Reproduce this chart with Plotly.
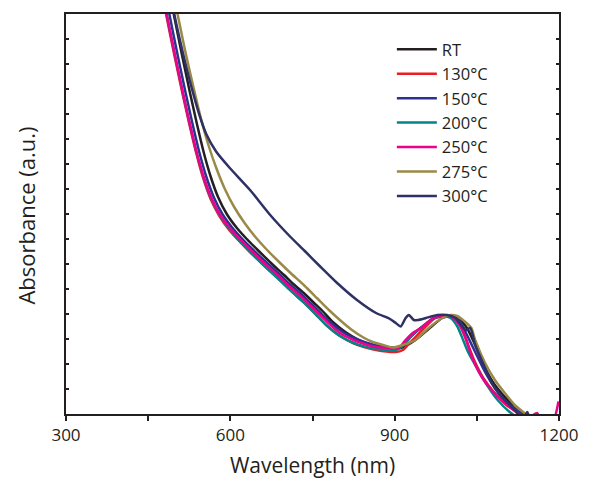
import plotly.graph_objects as go

# ---- data (wavelength in nm, absorbance in arbitrary units) ----
rt_nm = [482, 497, 511, 526, 538, 551, 564, 578, 594, 612, 630, 649, 680, 698, 716, 734, 752, 770, 786, 810, 833, 853, 884, 911, 938, 962, 987, 1002, 1016, 1032, 1047, 1065, 1083, 1110, 1133, 1145, 1200]
rt_y = [17.6, 15.96, 14.44, 12.88, 11.70, 10.50, 9.50, 8.66, 7.98, 7.44, 7.00, 6.58, 5.92, 5.56, 5.18, 4.84, 4.46, 4.08, 3.70, 3.28, 2.98, 2.80, 2.64, 2.64, 2.96, 3.4, 3.84, 3.92, 3.84, 3.44, 2.76, 1.84, 1.16, 0.48, 0.04, -0.2, -0.2]

c130_nm = [469, 483, 497, 512, 524, 537, 550, 564, 580, 598, 616, 635, 667, 685, 703, 721, 739, 757, 775, 799, 824, 844, 866, 902, 915, 924, 938, 956, 974, 993, 1007, 1020, 1032, 1045, 1063, 1081, 1104, 1126, 1140, 1200]
c130_y = [17.6, 15.96, 14.44, 12.88, 11.70, 10.50, 9.46, 8.60, 7.92, 7.36, 6.92, 6.50, 5.84, 5.48, 5.10, 4.72, 4.36, 3.96, 3.56, 3.14, 2.84, 2.68, 2.56, 2.48, 2.56, 2.76, 3.08, 3.48, 3.84, 3.92, 3.84, 3.52, 2.88, 2.16, 1.4, 0.88, 0.36, 0.04, -0.2, -0.2]

c150_nm = [475, 489, 503, 518, 530, 543, 556, 570, 586, 604, 622, 641, 673, 691, 709, 727, 745, 763, 781, 805, 830, 850, 872, 911, 929, 947, 969, 987, 1005, 1020, 1032, 1047, 1065, 1083, 1106, 1130, 1142, 1200]
c150_y = [17.6, 15.96, 14.44, 12.88, 11.70, 10.50, 9.50, 8.66, 7.98, 7.44, 7.00, 6.58, 5.92, 5.56, 5.18, 4.84, 4.46, 4.08, 3.70, 3.28, 3.0, 2.84, 2.72, 2.68, 3.08, 3.44, 3.8, 3.92, 3.92, 3.68, 3.16, 2.48, 1.68, 1.04, 0.44, 0.04, -0.2, -0.2]

c200_nm = [470, 484, 498, 513, 525, 538, 551, 565, 581, 599, 617, 636, 668, 686, 704, 722, 740, 758, 776, 800, 825, 845, 866, 902, 920, 933, 951, 971, 989, 1002, 1014, 1025, 1034, 1047, 1065, 1088, 1110, 1130, 1200]
c200_y = [17.6, 15.96, 14.44, 12.88, 11.70, 10.50, 9.48, 8.62, 7.94, 7.38, 6.92, 6.48, 5.80, 5.44, 5.06, 4.70, 4.34, 3.94, 3.54, 3.12, 2.84, 2.70, 2.60, 2.56, 2.84, 3.2, 3.48, 3.84, 3.92, 3.84, 3.52, 2.96, 2.48, 1.96, 1.28, 0.56, 0.08, -0.2, -0.2]

c250_nm = [470, 484, 498, 513, 525, 538, 551, 565, 581, 599, 617, 636, 668, 686, 704, 722, 740, 758, 776, 800, 825, 845, 866, 908, 920, 933, 951, 971, 989, 1005, 1016, 1029, 1041, 1059, 1077, 1101, 1124, 1140, 1160, 1166, 1190, 1199]
c250_y = [17.6, 15.96, 14.44, 12.88, 11.70, 10.50, 9.50, 8.66, 7.98, 7.44, 7.00, 6.58, 5.92, 5.56, 5.18, 4.84, 4.46, 4.08, 3.70, 3.24, 2.96, 2.80, 2.68, 2.66, 2.96, 3.24, 3.48, 3.84, 3.92, 3.88, 3.64, 3.08, 2.28, 1.48, 0.96, 0.44, 0.04, -0.2, 0.04, -0.2, -0.2, 0.5]

c275_nm = [490, 504, 518, 533, 547, 560, 574, 590, 607, 626, 645, 668, 690, 709, 735, 758, 780, 800, 822, 843, 860, 879, 897, 915, 938, 962, 987, 1002, 1014, 1029, 1040, 1047, 1065, 1083, 1101, 1119, 1137, 1150, 1200]
c275_y = [17.5, 15.96, 14.48, 13.04, 11.76, 10.76, 9.86, 9.0, 8.28, 7.64, 7.1, 6.54, 6.06, 5.66, 5.14, 4.64, 4.16, 3.76, 3.36, 3.06, 2.88, 2.76, 2.66, 2.76, 2.96, 3.44, 3.84, 3.96, 3.92, 3.68, 3.44, 2.96, 2.04, 1.36, 0.84, 0.36, 0.04, -0.2, -0.2]

c300_nm = [484, 498, 513, 529, 543, 556, 574, 599, 636, 672, 709, 735, 764, 794, 830, 866, 890, 902, 911, 920, 926, 935, 942, 957, 978, 996, 1011, 1021, 1030, 1038, 1047, 1065, 1077, 1092, 1106, 1124, 1135, 1142, 1148, 1200]
c300_y = [17.6, 15.96, 14.48, 13.08, 12.0, 11.2, 10.5, 9.84, 8.96, 7.98, 7.1, 6.54, 5.9, 5.26, 4.58, 4.04, 3.82, 3.64, 3.5, 3.84, 3.96, 3.76, 3.76, 3.84, 3.96, 3.96, 3.84, 3.56, 3.36, 3.44, 2.76, 1.84, 1.24, 0.76, 0.44, 0.04, -0.2, 0.08, -0.2, -0.2]

names = ["RT", "130°C", "150°C", "200°C", "250°C", "275°C", "300°C"]
colors = ["#231f20", "#ed1c24", "#2e3192", "#00858a", "#ec008c", "#9a8a48", "#2f3166"]
series = [(rt_nm, rt_y), (c130_nm, c130_y), (c150_nm, c150_y), (c200_nm, c200_y),
          (c250_nm, c250_y), (c275_nm, c275_y), (c300_nm, c300_y)]

FONT = "Open Sans"
AX = "#231f20"

fig = go.Figure()
for name, col, (xs, ys) in zip(names, colors, series):
    fig.add_trace(go.Scatter(x=xs, y=ys, mode="lines", name=name,
                             line=dict(color=col, width=2.5, shape="spline", smoothing=0.6)))

fig.update_layout(
    width=590, height=492,
    margin=dict(l=66, r=25, t=14, b=78),
    paper_bgcolor="white", plot_bgcolor="white",
    font=dict(family=FONT, color=AX, size=17),
    showlegend=True,
    legend=dict(x=0.661, y=0.955, xanchor="left", yanchor="top",
                bgcolor="rgba(0,0,0,0)", font=dict(size=16.5, family=FONT, color=AX),
                itemwidth=40, tracegroupgap=0),
    annotations=[dict(text="Absorbance (a.u.)", textangle=-90, showarrow=False,
                      xref="paper", yref="paper", x=-0.082, y=0.495,
                      xanchor="center", yanchor="middle",
                      font=dict(size=22, family=FONT, color=AX))],
)
fig.update_xaxes(range=[300, 1200], showgrid=False, zeroline=False,
                 showline=True, linecolor=AX, linewidth=2, mirror=True,
                 ticks="outside", ticklen=5, tickwidth=2, tickcolor=AX,
                 tickvals=[300, 600, 900, 1200],
                 minor=dict(tickvals=[450, 750, 1050], ticks="outside", ticklen=5, tickwidth=2, tickcolor=AX),
                 tickfont=dict(size=17, family=FONT, color=AX),
                 title=dict(text="Wavelength (nm)", font=dict(size=21, family=FONT, color=AX), standoff=13))
fig.update_yaxes(range=[0, 16], showgrid=False, zeroline=False,
                 showline=True, linecolor=AX, linewidth=2, mirror="ticks",
                 ticks="inside", ticklen=3, tickwidth=1.5, tickcolor=AX, dtick=1,
                 showticklabels=False)

fig.write_html("out.html")
